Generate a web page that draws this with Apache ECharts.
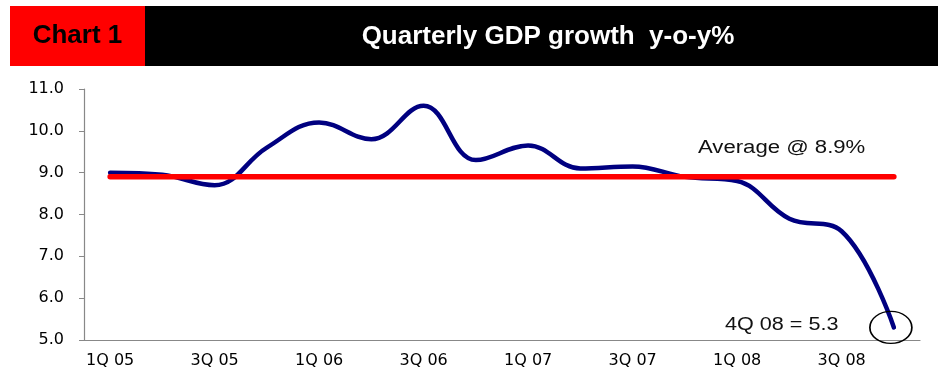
<!DOCTYPE html>
<html>
<head>
<meta charset="utf-8">
<script src="https://cdn.jsdelivr.net/npm/echarts@6.0.0/dist/echarts.min.js"></script>
<style>
  html, body { margin: 0; padding: 0; background: #fff; }
  #chart { width: 938px; height: 387px; }
</style>
</head>
<body>
<div id="chart"></div>
<script>
// quarters shown on the x axis
const quarters = [
  "1Q 05", "2Q 05", "3Q 05", "4Q 05",
  "1Q 06", "2Q 06", "3Q 06", "4Q 06",
  "1Q 07", "2Q 07", "3Q 07", "4Q 07",
  "1Q 08", "2Q 08", "3Q 08", "4Q 08"
];
// GDP growth y-o-y %
const gdpGrowth = [9.0, 8.95, 8.7, 9.6, 10.2, 9.8, 10.6, 9.3, 9.65, 9.1, 9.15, 8.9, 8.8, 7.9, 7.6, 5.3];
// average line @ 8.9
const averageLine = [8.9, 8.9, 8.9, 8.9, 8.9, 8.9, 8.9, 8.9, 8.9, 8.9, 8.9, 8.9, 8.9, 8.9, 8.9, 8.9];
// y axis range / ticks
const yMin = 5;
const yMax = 11;
const yStep = 1;

const chart = echarts.init(document.getElementById("chart"), null, { renderer: "canvas" });

const axisFont = { color: "#000", fontSize: 16, fontFamily: "DejaVu Sans" };

const option = {
  backgroundColor: "#fff",
  animation: false,
  grid: { left: 84, right: 18, top: 89, bottom: 47 },
  xAxis: {
    type: "category",
    data: quarters,
    boundaryGap: true,
    axisLine: { lineStyle: { color: "#888", width: 1.2 } },
    axisTick: { interval: 0, length: 5, lineStyle: { color: "#888" } },
    axisLabel: { ...axisFont, interval: 1, margin: 13 },
    splitLine: { show: false }
  },
  yAxis: {
    type: "value",
    min: yMin,
    max: yMax,
    interval: yStep,
    axisLine: { show: true, lineStyle: { color: "#888", width: 1.2 } },
    axisTick: { show: true, length: 5, lineStyle: { color: "#888" } },
    axisLabel: { ...axisFont, margin: 20, formatter: (v) => v.toFixed(1) },
    splitLine: { show: false }
  },
  graphic: [
    { type: "rect", shape: { x: 10, y: 6, width: 135, height: 60 }, style: { fill: "#ff0000" } },
    { type: "rect", shape: { x: 145, y: 6, width: 793, height: 60 }, style: { fill: "#000" } },
    {
      type: "text", x: 77.5, y: 36,
      style: { text: "Chart 1", fill: "#000", font: "bold 26px 'Liberation Sans', Arial", textAlign: "center", textVerticalAlign: "middle" }
    },
    {
      type: "text", x: 548, y: 37,
      style: { text: "Quarterly GDP growth  y-o-y%", fill: "#fff", font: "bold 26px 'Liberation Sans', Arial", textAlign: "center", textVerticalAlign: "middle" }
    },
    {
      type: "text", x: 698, y: 148, scaleX: 1.23,
      style: { text: "Average @ 8.9%", fill: "#111", font: "18px 'Liberation Sans', Arial", textAlign: "left", textVerticalAlign: "middle" }
    },
    {
      type: "text", x: 725, y: 325, scaleX: 1.2,
      style: { text: "4Q 08 = 5.3", fill: "#111", font: "18px 'Liberation Sans', Arial", textAlign: "left", textVerticalAlign: "middle" }
    }
  ],
  series: [
    {
      name: "GDP growth",
      type: "line",
      data: gdpGrowth,
      smooth: 0.4,
      symbol: "none",
      lineStyle: { color: "#000080", width: 4.5, cap: "round" },
      z: 2,
      markPoint: {
        silent: true,
        symbol: "circle",
        symbolSize: [42, 32],
        symbolOffset: [-3, 0],
        itemStyle: { color: "rgba(0,0,0,0)", borderColor: "#000", borderWidth: 1.5 },
        label: { show: false },
        data: [{ coord: [quarters.length - 1, gdpGrowth[gdpGrowth.length - 1]] }]
      }
    },
    {
      name: "Average",
      type: "line",
      data: averageLine,
      symbol: "none",
      lineStyle: { color: "#ff0000", width: 5.5, cap: "round" },
      z: 3
    }
  ]
};

chart.setOption(option);
</script>
</body>
</html>
